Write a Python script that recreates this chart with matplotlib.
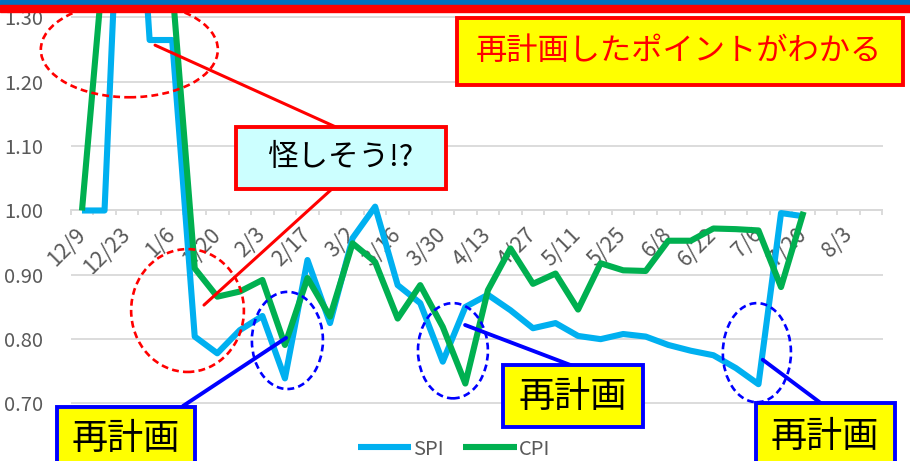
import numpy as np
import matplotlib
matplotlib.use("Agg")
from matplotlib import pyplot as plt
from matplotlib.patches import Ellipse, Rectangle

plt.rcParams["font.family"] = ["Noto Sans CJK JP", "DejaVu Sans"]

#週次データ（12/9 から 1 週ごと、軸は 36 週分）
N_WEEKS = 36
TICK_LABELS = ["12/9", "12/23", "1/6", "1/20", "2/3", "2/17", "3/2", "3/16",
               "3/30", "4/13", "4/27", "5/11", "5/25", "6/8", "6/22", "7/6",
               "7/20", "8/3"]
SPI = [1.00, 1.00, 1.80, 1.265, 1.265, 0.804, 0.778, 0.814, 0.836, 0.739,
       0.923, 0.825, 0.957, 1.006, 0.884, 0.856, 0.765, 0.850, 0.869, 0.845,
       0.817, 0.825, 0.805, 0.800, 0.808, 0.804, 0.791, 0.782, 0.775, 0.755,
       0.730, 0.996, 0.991]
CPI = [1.00, 1.40, 1.52, 1.45, 1.35, 0.910, 0.866, 0.874, 0.892, 0.791,
       0.895, 0.835, 0.949, 0.920, 0.832, 0.884, 0.819, 0.731, 0.876, 0.941,
       0.886, 0.902, 0.846, 0.918, 0.907, 0.906, 0.953, 0.953, 0.972, 0.971,
       0.969, 0.881, 0.998]
Y_TICKS = [0.70, 0.80, 0.90, 1.00, 1.10, 1.20, 1.30]

GRAY = "#595959"
LIGHT = "#D9D9D9"
RED = "#FF0000"
BLUE = "#0000FF"

W, H = 910, 461


def fig_xy(px, py):
    """Пиксели от левого верхнего угла -> доли фигуры."""
    return px / W, 1 - py / H


def box(x0, y0, x1, y1, text, tx, ty, face, edge, color, size):
    fig.add_artist(Rectangle(
        fig_xy(x0, y1), (x1 - x0) / W, (y1 - y0) / H,
        transform=fig.transFigure, facecolor=face, edgecolor=edge,
        lw=2.8, zorder=6,
    ))
    fig.text(*fig_xy(tx, ty), text, ha="center", va="center",
             color=color, fontsize=size, zorder=7)


def pointer(xy, px, py, color, lw):
    ax.annotate("", xy=xy, xycoords="data", xytext=fig_xy(px, py),
                textcoords="figure fraction", annotation_clip=False,
                arrowprops=dict(arrowstyle="-", color=color, lw=lw,
                                shrinkA=0, shrinkB=0), zorder=5)


def ring(cx, cy, w, h, color):
    ax.add_patch(Ellipse((cx, cy), w, h, fill=False, edgecolor=color,
                         lw=1.9, ls=(0, (2.6, 1.6)), clip_on=False,
                         zorder=4))


fig = plt.figure(figsize=(W / 100, H / 100), dpi=100)
ax = fig.add_axes([70.7 / W, 0, (882.5 - 70.7) / W, 1])
ax.set_xlim(-0.5, N_WEEKS - 0.5)
ax.set_ylim(0.6106, 1.3272)

x = np.arange(len(SPI))
ax.plot(x, SPI, color="#00B0F0", lw=4.4, label="SPI",
        solid_capstyle="butt", zorder=3)
ax.plot(x, CPI, color="#00B050", lw=4.4, label="CPI",
        solid_capstyle="butt", zorder=3)

# оси
for side in ("left", "right", "top"):
    ax.spines[side].set_visible(False)
ax.spines["bottom"].set_position(("data", 1.0))
ax.spines["bottom"].set_color(LIGHT)
ax.spines["bottom"].set_linewidth(1.3)
ax.set_yticks(Y_TICKS, [f"{v:.2f}" for v in Y_TICKS])
ax.yaxis.grid(True, color=LIGHT, lw=1.3)
ax.set_axisbelow(True)
ax.tick_params(axis="y", length=0, pad=20, labelsize=14.5, labelcolor=GRAY)

ax.set_xticks(np.arange(N_WEEKS + 1) - 0.5, [""] * (N_WEEKS + 1))
ax.set_xticks(np.arange(0, N_WEEKS, 2), TICK_LABELS, minor=True)
ax.tick_params(axis="x", which="major", direction="out", length=3.8,
               width=1.3, color=LIGHT)
ax.tick_params(axis="x", which="minor", length=0, pad=15, labelsize=15.5,
               labelcolor=GRAY)
for lbl in ax.get_xticklabels(minor=True):
    lbl.set_rotation(45)
    lbl.set_ha("right")
    lbl.set_va("center")
    lbl.set_rotation_mode("anchor")

fig.legend(loc="center", bbox_to_anchor=fig_xy(454, 449), ncol=2,
           frameon=False, fontsize=14.5, handlelength=2.65,
           handletextpad=0.1, columnspacing=0.95, labelcolor=GRAY)

# пометки
ring(2.1, 1.250, 7.85, 0.148, RED)
ring(4.68, 0.8445, 5.0, 0.191, RED)
pointer((3.24, 1.257), 338, 128, RED, 2.2)
pointer((5.41, 0.853), 333, 188, RED, 2.2)

ring(9.11, 0.798, 3.15, 0.151, BLUE)
ring(16.45, 0.782, 3.10, 0.148, BLUE)
ring(29.93, 0.779, 3.02, 0.154, BLUE)
pointer((9.05, 0.802), 183, 406, BLUE, 2.8)
pointer((16.99, 0.822), 573, 366, BLUE, 2.8)
pointer((30.19, 0.768), 822, 404, BLUE, 2.8)

box(457, 18, 903, 85, "再計画したポイントがわかる", 679, 51,
    "#FFFF00", RED, RED, 22.5)
box(236, 127, 446, 189, "怪しそう!?", 340, 158,
    "#CCFFFF", RED, "black", 22)
box(57, 407, 195, 475, "再計画", 126, 439, "#FFFF00", BLUE, "black", 26)
box(503, 365, 643, 427, "再計画", 573, 397, "#FFFF00", BLUE, "black", 26)
box(756, 403, 895, 475, "再計画", 825, 437, "#FFFF00", BLUE, "black", 26)

# полоса заголовка слайда
fig.add_artist(Rectangle(fig_xy(0, 5), 1, 5 / H, transform=fig.transFigure,
                         color="#0070C0", zorder=10))
fig.add_artist(Rectangle(fig_xy(0, 12), 1, 7 / H, transform=fig.transFigure,
                         color=RED, zorder=10))

fig.savefig("out.png", dpi=100)
plt.close(fig)
